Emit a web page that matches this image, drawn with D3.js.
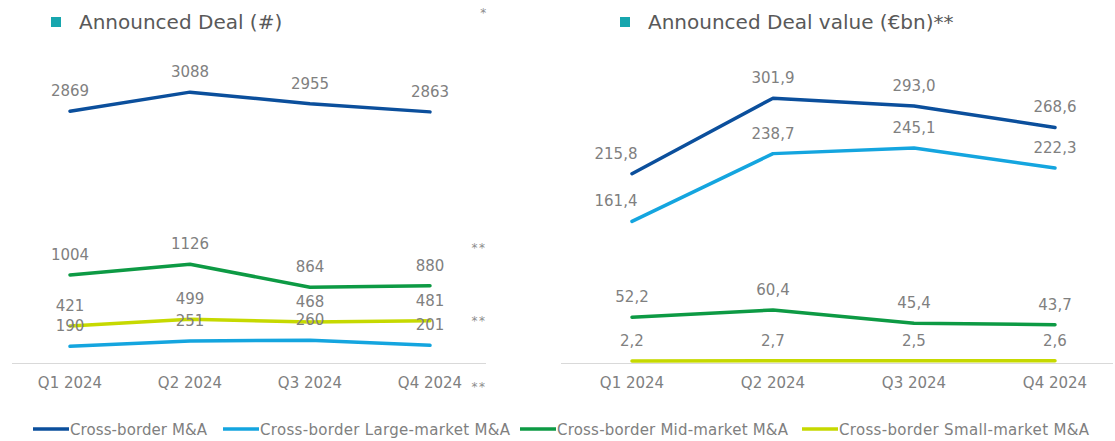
<!DOCTYPE html>
<html>
<head>
<meta charset="utf-8">
<script src="https://cdn.jsdelivr.net/npm/d3@7"></script>
<style>
  html, body { margin: 0; padding: 0; background: #ffffff; }
  svg { display: block; font-family: "DejaVu Sans", Verdana, sans-serif; }
</style>
</head>
<body>
<svg id="chart" width="1115" height="441"></svg>
<script>
// ---- data ----
const quarters = ["Q1 2024", "Q2 2024", "Q3 2024", "Q4 2024"];
const seriesNames = ["Cross-border M&A", "Cross-border Large-market M&A", "Cross-border Mid-market M&A", "Cross-border Small-market M&A"];
const seriesColors = ["#0b4f9c", "#14a5df", "#0d9a44", "#c6d900"];

const dealCountMA = [2869, 3088, 2955, 2863];
const dealCountLarge = [190, 251, 260, 201];
const dealCountMid = [1004, 1126, 864, 880];
const dealCountSmall = [421, 499, 468, 481];

const dealValueMA = [215.8, 301.9, 293.0, 268.6];
const dealValueLarge = [161.4, 238.7, 245.1, 222.3];
const dealValueMid = [52.2, 60.4, 45.4, 43.7];
const dealValueSmall = [2.2, 2.7, 2.5, 2.6];

const leftTitle = "Announced Deal (#)";
const rightTitle = "Announced Deal value (€bn)**";

// ---- drawing ----
const svg = d3.select("#chart");
const gridColor = "#d9d9d9";
const labelColor = "#808080";
const titleColor = "#595959";
const teal = "#17a6ae";

function drawPanel(opts) {
  const x = d3.scaleBand().domain(quarters).range(opts.xRange).padding(0);
  const y = d3.scaleLinear().domain([0, opts.yMax]).range([363, 56]);
  const g = svg.append("g");

  // x axis
  const axis = d3.axisBottom(x).tickSize(0).tickPadding(0);
  const ax = g.append("g").attr("transform", "translate(0,363)").call(axis);
  ax.select(".domain").attr("stroke", gridColor).attr("stroke-width", 1)
    .attr("d", `M${opts.baseline[0]},0.5H${opts.baseline[1]}`);
  ax.selectAll(".tick text")
    .attr("y", 25)
    .attr("dy", 0)
    .attr("fill", labelColor)
    .style("font-size", "15px")
    .style("font-family", "DejaVu Sans, Verdana, sans-serif");

  const cx = d => x(d) + x.bandwidth() / 2;
  const line = d3.line().x((d, i) => cx(quarters[i])).y(d => y(d));

  opts.series.forEach((vals, si) => {
    g.append("path")
      .datum(vals)
      .attr("fill", "none")
      .attr("stroke", seriesColors[si])
      .attr("stroke-width", 3.5)
      .attr("stroke-linejoin", "round")
      .attr("stroke-linecap", "round")
      .attr("d", line);
  });
  opts.series.forEach((vals, si) => {
    g.selectAll(null)
      .data(vals)
      .enter()
      .append("text")
      .attr("x", (d, i) => cx(quarters[i]) + ((i === 0 && opts.shiftFirst.includes(si)) ? -16 : 0))
      .attr("y", d => y(d) - 15)
      .attr("text-anchor", "middle")
      .attr("fill", labelColor)
      .style("font-size", "15px")
      .text(d => opts.fmt(d));
  });

  // title
  g.append("rect").attr("x", opts.titleX - 28).attr("y", 17).attr("width", 10).attr("height", 10).attr("fill", teal);
  g.append("text").attr("x", opts.titleX).attr("y", 29)
    .attr("fill", titleColor).style("font-size", "20px").text(opts.title);
}

drawPanel({
  xRange: [10, 490],
  baseline: [12, 486],
  yMax: 3500,
  series: [dealCountMA, dealCountLarge, dealCountMid, dealCountSmall],
  fmt: d => String(d),
  shiftFirst: [],
  title: leftTitle,
  titleX: 79
});

drawPanel({
  xRange: [561.5, 1125.5],
  baseline: [561, 1113],
  yMax: 350,
  series: [dealValueMA, dealValueLarge, dealValueMid, dealValueSmall],
  fmt: d => d.toFixed(1).replace(".", ","),
  shiftFirst: [0, 1],
  title: rightTitle,
  titleX: 648
});

// asterisk notes
const notes = [["*", 484, 17], ["**", 479, 252], ["**", 479, 325], ["**", 479, 391]];
svg.selectAll(null).data(notes).enter().append("text")
  .attr("x", d => d[1]).attr("y", d => d[2])
  .attr("text-anchor", "middle")
  .attr("fill", "#8c8c8c")
  .style("font-size", "12px")
  .style("letter-spacing", "1.5px")
  .text(d => d[0]);

// legend
const legendX = [33, 223, 520, 802];
const legendW = [137, 250, 231, 250];
const legend = svg.append("g").attr("transform", "translate(0,429)");
seriesNames.forEach((name, i) => {
  const item = legend.append("g").attr("transform", `translate(${legendX[i]},0)`);
  item.append("line").attr("x1", 0).attr("x2", 36).attr("y1", 0).attr("y2", 0)
    .attr("stroke", seriesColors[i]).attr("stroke-width", 3.5);
  item.append("text").attr("x", 37).attr("y", 5.5)
    .attr("fill", "#808080").style("font-size", "15px")
    .attr("textLength", legendW[i]).attr("lengthAdjust", "spacing")
    .text(name);
});
</script>
</body>
</html>
